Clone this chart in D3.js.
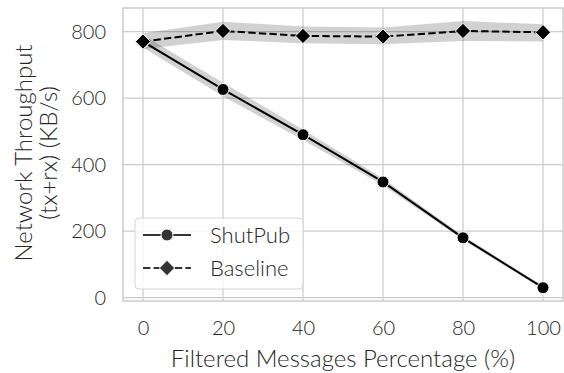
<!DOCTYPE html>
<html>
<head>
<meta charset="utf-8">
<script src="https://cdn.jsdelivr.net/npm/d3@7"></script>
<style>
  body { margin: 0; background: #fff; }
  text { font-family: Lato, "DejaVu Sans", sans-serif; font-weight: 300; fill: #262626; }
</style>
</head>
<body>
<svg id="chart" width="564" height="373"></svg>
<script>
// filtered messages percentage
const percents = [0, 20, 40, 60, 80, 100];
// ShutPub mean throughput and its band
const shutpub = [770, 626, 490, 348, 180, 30];
const shutpubLow = [752, 606, 474, 338, 174, 25];
const shutpubHigh = [790, 646, 506, 358, 186, 35];
// Baseline mean throughput and its band
const baseline = [770, 802, 787, 785, 802, 798];
const baselineLow = [748, 775, 765, 762, 772, 770];
const baselineHigh = [795, 830, 815, 812, 832, 822];
const xTicks = [0, 20, 40, 60, 80, 100];
const yTicks = [0, 200, 400, 600, 800];

const svg = d3.select("#chart");
const pl = 123, pr = 563, pt = 8, pb = 301;

const x = d3.scaleLinear().domain([-5, 105]).range([pl, pr]);
const y = d3.scaleLinear().domain([-10, 871]).range([pb, pt]);

// grid
svg.append("g").selectAll("line").data(xTicks).enter().append("line")
   .attr("x1", d => x(d)).attr("x2", d => x(d))
   .attr("y1", pt).attr("y2", pb)
   .attr("stroke", "#cccccc").attr("stroke-width", 1.25);
svg.append("g").selectAll("line").data(yTicks).enter().append("line")
   .attr("x1", pl).attr("x2", pr)
   .attr("y1", d => y(d)).attr("y2", d => y(d))
   .attr("stroke", "#cccccc").attr("stroke-width", 1.25);

// frame
svg.append("rect")
   .attr("x", pl).attr("y", pt)
   .attr("width", pr - pl).attr("height", pb - pt)
   .attr("fill", "none").attr("stroke", "#cccccc").attr("stroke-width", 1.5);

// tick labels via axes without lines
const xAxis = svg.append("g")
   .attr("transform", "translate(0," + pb + ")")
   .call(d3.axisBottom(x).tickValues(xTicks).tickSize(0).tickPadding(20));
const yAxis = svg.append("g")
   .attr("transform", "translate(" + pl + ",0)")
   .call(d3.axisLeft(y).tickValues(yTicks).tickSize(0).tickPadding(17));
[xAxis, yAxis].forEach(g => {
   g.select(".domain").remove();
   g.selectAll("text").attr("font-size", 20).attr("fill", "#262626")
      .style("font-family", "Lato, 'DejaVu Sans', sans-serif")
      .style("font-weight", 300);
});

// bands
function band(lo, hi) {
   return d3.area()
      .x((d, i) => x(percents[i]))
      .y0((d, i) => y(lo[i]))
      .y1((d, i) => y(hi[i]))(percents);
}
svg.append("path").attr("d", band(baselineLow, baselineHigh))
   .attr("fill", "#000").attr("fill-opacity", 0.18);
svg.append("path").attr("d", band(shutpubLow, shutpubHigh))
   .attr("fill", "#000").attr("fill-opacity", 0.18);

const line = d3.line().x((d, i) => x(percents[i])).y(d => y(d));

svg.append("path").datum(shutpub).attr("d", line)
   .attr("fill", "none").attr("stroke", "#000").attr("stroke-width", 2);
svg.append("path").datum(baseline).attr("d", line)
   .attr("fill", "none").attr("stroke", "#000").attr("stroke-width", 2)
   .attr("stroke-dasharray", "7.4,3.2");

const diamond = d3.symbol().type(d3.symbolDiamond2).size(150);

svg.append("g").selectAll("circle").data(shutpub).enter().append("circle")
   .attr("cx", (d, i) => x(percents[i])).attr("cy", d => y(d)).attr("r", 6)
   .attr("fill", "#000").attr("stroke", "#fff").attr("stroke-width", 1);
svg.append("g").selectAll("path").data(baseline).enter().append("path")
   .attr("d", diamond)
   .attr("transform", (d, i) => "translate(" + x(percents[i]) + "," + y(d) + ")")
   .attr("fill", "#000").attr("stroke", "#fff").attr("stroke-width", 1);

// legend
const lg = svg.append("g");
lg.append("rect").attr("x", 135).attr("y", 218).attr("width", 168).attr("height", 71)
   .attr("rx", 4).attr("fill", "#fff").attr("fill-opacity", 0.8)
   .attr("stroke", "#d6d6d6").attr("stroke-width", 1);
const items = [
   { name: "ShutPub", dash: null, shape: "circle", yy: 235 },
   { name: "Baseline", dash: "7.4,3.2", shape: "diamond", yy: 268 }
];
items.forEach(it => {
   lg.append("line").attr("x1", 143).attr("x2", 191).attr("y1", it.yy).attr("y2", it.yy)
      .attr("stroke", "#333").attr("stroke-width", 2)
      .attr("stroke-dasharray", it.dash);
   if (it.shape === "circle") {
      lg.append("circle").attr("cx", 167).attr("cy", it.yy).attr("r", 6)
         .attr("fill", "#333").attr("stroke", "#fff").attr("stroke-width", 1);
   } else {
      lg.append("path").attr("d", diamond)
         .attr("transform", "translate(167," + it.yy + ")")
         .attr("fill", "#333").attr("stroke", "#fff").attr("stroke-width", 1);
   }
   lg.append("text").attr("x", 210).attr("y", it.yy + 8)
      .attr("font-size", 22).text(it.name);
});

// axis titles
svg.append("text").attr("x", (pl + pr) / 2 + 0).attr("y", 367)
   .attr("text-anchor", "middle").attr("font-size", 24)
   .text("Filtered Messages Percentage (%)");
svg.append("text")
   .attr("transform", "translate(32,153) rotate(-90)")
   .attr("text-anchor", "middle").attr("font-size", 24)
   .text("Network Throughput");
svg.append("text")
   .attr("transform", "translate(57,153) rotate(-90)")
   .attr("text-anchor", "middle").attr("font-size", 24)
   .text("(tx+rx) (KB/s)");
</script>
</body>
</html>
